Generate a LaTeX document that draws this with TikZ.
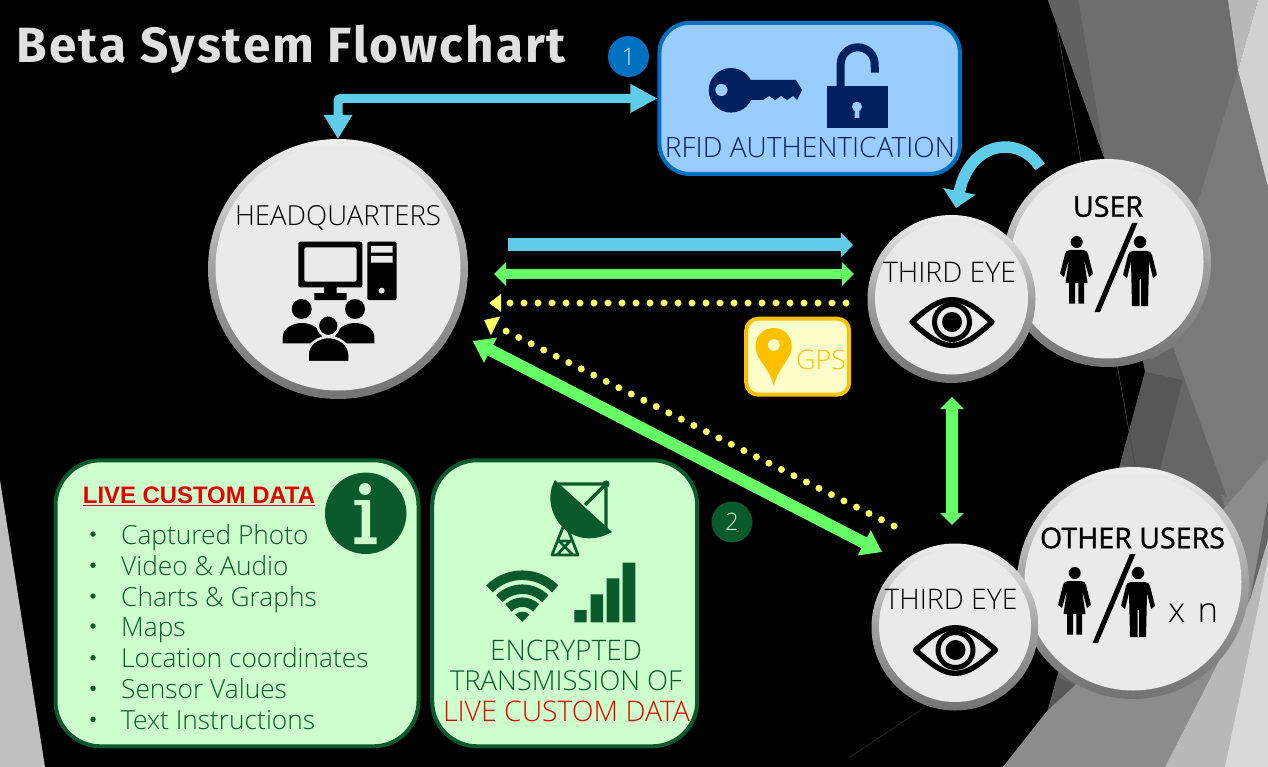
\documentclass[tikz,border=0pt]{standalone}
\usepackage{fontspec}
\usepackage{graphicx}
\usetikzlibrary{arrows.meta}
\setmainfont{Open Sans}
\newfontfamily\lightf{Open Sans Light}
\newfontfamily\medf[FakeBold=1.2]{Open Sans}
\newfontfamily\titlef[LetterSpace=4]{Fira Sans}
\newfontfamily\headf{Liberation Sans}
\definecolor{facegray}{HTML}{EAEAEA}
\definecolor{skyc}{HTML}{5FCDE9}
\definecolor{limec}{HTML}{66FF66}
\definecolor{yelc}{HTML}{FFFF66}
\definecolor{dgreen}{HTML}{0B5A2C}
\definecolor{lgreen}{HTML}{CCFFCC}
\definecolor{navyc}{HTML}{002060}
\definecolor{bluec}{HTML}{0070C0}
\definecolor{lblue}{HTML}{99CCFF}
\definecolor{goldc}{HTML}{FFC000}
\definecolor{lyel}{HTML}{FFFFCC}
\definecolor{redc}{HTML}{E60000}
\definecolor{E0grey}{HTML}{EFEFEF}
\definecolor{M0grey}{HTML}{A0A0A0}
\definecolor{B0grey}{HTML}{737373}
\newcommand{\disc}[4]{%
  \node[discring,minimum size={2*#4*1pt}] (#1) at (#2,#3) {};
  \node[discface,minimum size={(2*#4-15)*1pt}] (#1-face) at (#2,#3-1) {};}
\newcommand{\fit}[3]{\resizebox{#1pt}{!}{\fontsize{#2}{#2}\selectfont #3}}
\newcommand{\peopleicon}{%
  \fill (1076.7,242) circle (6);
  \fill (1070,250) -- (1083,250) .. controls (1086,250) and (1087.5,252) .. (1088,254) -- (1093,274) -- (1089,277) -- (1084,259) -- (1087.5,283) -- (1084,283) -- (1084,303.5) -- (1078.3,303.5) -- (1078.3,283) -- (1075,283) -- (1075,303.5) -- (1069,303.5) -- (1069,283) -- (1065.5,283) -- (1069,259) -- (1064,277) -- (1060,274) -- (1065,254) .. controls (1065.5,252) and (1067,250) .. (1070,250) -- cycle;
  \fill (1140,242) circle (6.2);
  \fill (1133,251) -- (1147,251) .. controls (1150,251) and (1151.5,253) .. (1152,255) -- (1157,275) -- (1153,278) -- (1149,262) -- (1148,306) -- (1141,306) -- (1141,279) -- (1139.5,279) -- (1139.5,306) -- (1132,306) -- (1131,262) -- (1127,278) -- (1123,275) -- (1128,255) .. controls (1128.5,253) and (1130,251) .. (1133,251) -- cycle;
  \fill (1132,223) -- (1137.5,223) -- (1100,312) -- (1094.5,312) -- cycle;}
\newcommand{\eyeicon}{%
  \draw[line width=5.4,line join=round] (915.5,650) .. controls (932,635) and (943,627.7) .. (955.5,627.7) .. controls (968,627.7) and (979,635) .. (995.5,650) .. controls (979,665) and (968,673.3) .. (955.5,673.3) .. controls (943,673.3) and (932,665) .. (915.5,650) -- cycle;
  \draw[line width=5] (955.5,650) circle (17.5);
  \fill (955.5,650) circle (10);}
\begin{document}
\begin{tikzpicture}[x=1pt,y=-1pt,
  discring/.style={circle,inner sep=0pt,outer sep=0pt,top color=E0grey,bottom color=B0grey,middle color=M0grey},
  discface/.style={circle,inner sep=0pt,outer sep=0pt,fill=facegray},
  panel/.style={draw,line width=4,rounded corners=#1},
  wide/.style={font=\lightf,inner sep=0pt,anchor=base},
  strong/.style={font=\medf,inner sep=0pt,anchor=base},
  listitem/.style={font=\lightf\fontsize{26.3}{26.3}\selectfont,text=dgreen,anchor=base west,inner sep=0pt},
  bulletdot/.style={circle,fill=dgreen,inner sep=0pt,minimum size=5.5},
  badge/.style={circle,inner sep=0pt,minimum size=41,font=\lightf\fontsize{24}{24}\selectfont},
  skyarrow/.style={draw=skyc,line width=#1},
  limearrow/.style={draw=limec,line width=#1},
  yeldots/.style={draw=yelc,line width=7,line cap=round,dash pattern=on 0pt off 14pt},
]
\useasboundingbox (0,0) rectangle (1268,767);
\fill[black] (0,0) rectangle (1268,767);
% background right
\fill[black!60] (1048,0) -- (1268,0) -- (1268,767) -- (1003,767) -- (1048,710) -- (1057,677) -- (1120,465) -- (1145,372) -- (1105,160) -- cycle;
\fill[black!57] (1078,0) -- (1228,0) -- (1238,70) -- (1150,360) -- (1105,160) -- cycle;
\fill[black!62] (1048,0) -- (1078,0) -- (1105,160) -- cycle;
\fill[black!52] (1238,70) -- (1268,187) -- (1268,458) -- (1225,507) -- (1173,347) -- (1150,360) -- cycle;
\fill[black!66] (1145,372) -- (1120,465) -- (1160,470) -- (1183,380) -- cycle;
\fill[black!60] (1183,380) -- (1160,355) -- (1173,347) -- (1227,497) -- (1160,470) -- cycle;
\fill[black!28] (1228,0) -- (1258,0) -- (1238,70) -- cycle;
\fill[black!18] (1258,0) -- (1268,0) -- (1268,187) -- (1238,70) -- cycle;
\fill[black!45] (1225,507) -- (1268,458) -- (1268,500) -- (1250,600) -- (1165,767) -- (1003,767) -- (1048,710) -- (1075,685) -- cycle;
\fill[black!66] (1048,710) -- (1057,677) -- (1075,685) -- cycle;
\fill[black!28] (1250,600) -- (1268,540) -- (1268,767) -- (1165,767) -- cycle;
\fill[black!15] (1268,560) -- (1268,767) -- (1225,767) -- cycle;
\draw[black!72,line width=.6] (1057,27) -- (1135,465);
\draw[black!82,line width=.6] (850,757) -- (925,707);
% background left
\fill[black!25] (0,480) -- (45,767) -- (0,767) -- cycle;
% title
\node[inner sep=0pt,anchor=base,text=black!12] (title) at (291.5,62.7) {\resizebox{549pt}{!}{\titlef\bfseries\fontsize{50}{50}\selectfont Beta System Flowchart}};
% panels
\node[panel=30,draw=bluec,fill=lblue,minimum width=300.5,minimum height=151,inner sep=0pt] (rfid) at (809.7,98.4) {};
\node[panel=12,draw=goldc,fill=lyel,minimum width=103,minimum height=76,inner sep=0pt] (gps) at (797.7,356.7) {};
\node[panel=45,draw=dgreen,fill=lgreen,minimum width=363,minimum height=286,inner sep=0pt] (livebox) at (237,603.3) {};
\node[panel=45,draw=dgreen,fill=lgreen,minimum width=265,minimum height=286,inner sep=0pt] (encbox) at (564.7,603.3) {};
\node[badge,fill=bluec,text=white!85!bluec] (b1) at (628.5,56.5) {1};
\node[badge,fill=dgreen,text=lgreen] (b2) at (732,522) {2};
% discs
\disc{hq}{338}{269}{130}
\disc{user}{1107}{263}{104}
\disc{eyeA}{951.5}{299}{84}
\disc{others}{1133}{583}{116}
\disc{eyeB}{955}{627}{83.5}
% RFID
\node[wide,text=navyc] (rfidt) at (810,157.7) {\fit{290}{28}{RFID AUTHENTICATION}};
\begin{scope}[navyc]
  \fill[even odd rule] (731,90.3) ellipse (22.3 and 22.3) (721.4,90) circle (6.2);
  \fill (745,80) -- (796,80) -- (802,90) -- (797,100) -- (793,96) -- (787,100) -- (781,96) -- (775,100) -- (769,96) -- (763,100) -- (745,100) -- cycle;
  \draw[line width=8] (840.7,88) -- (840.7,64) arc[start angle=180,end angle=360,x radius=17,y radius=16.7] -- (874.8,72.7);
  \fill (827,86) -- (887.6,86) -- (887.6,127.7) -- (827,127.7) -- cycle;
\end{scope}
\fill[lblue] (857,106.7) circle (5) (855,106) -- (859,106) -- (859.5,118) -- (854.5,118) -- cycle;
% GPS
\node[wide,text=goldc] (gpst) at (821,369.3) {\fit{50}{28}{GPS}};
\fill[goldc,even odd rule] (773.8,385.7) .. controls (768,365) and (755.5,360) .. (755.5,346.5) .. controls (755.5,336) and (763,328) .. (773.8,328) .. controls (784,328) and (791.7,336) .. (791.7,346.5) .. controls (791.7,360) and (779,365) .. (773.8,385.7) -- cycle (773.8,345) circle (6);
% HQ
\node[wide] (hqt) at (338,226) {\fit{206}{28}{HEADQUARTERS}};
\begin{scope}[black]
  \fill[rounded corners=2,even odd rule] (298.3,241.7) rectangle (362.3,287.3) (304.3,247.3) rectangle (356.7,281.7);
  \fill (324,287) rectangle (336.7,293) (314.3,293) rectangle (346.7,300);
  \fill[rounded corners=2] (367.3,241.7) rectangle (396.7,300);
  \fill[facegray] (371,246) rectangle (392.7,252.7) (371,256) rectangle (392.7,262.7) (381.7,290.7) circle (3);
  \fill (301.7,309) circle (10) (355,309) circle (10);
  \fill (282.7,343.3) -- (282.7,337) .. controls (283,328) and (293,323) .. (302,323) .. controls (311,323) and (320,328) .. (322,337) -- (322,343.3) -- cycle;
  \fill (374.3,343.3) -- (374.3,337) .. controls (374,328) and (364,323) .. (355,323) .. controls (346,323) and (337,328) .. (335,337) -- (335,343.3) -- cycle;
  \filldraw[draw=facegray,line width=2.5] (328.3,325.7) circle (10.5);
  \filldraw[draw=facegray,line width=2.5] (307.5,362) -- (307.5,354) .. controls (308,344) and (318,337) .. (328.5,337) .. controls (339,337) and (349,344) .. (349.5,354) -- (349.5,362) -- cycle;
\end{scope}
% eyes
\node[wide] (eyeAt) at (949.5,282) {\fit{133}{26}{THIRD EYE}};
\begin{scope}[shift={(-3.5,-328)},black]\eyeicon\end{scope}
\node[wide] (eyeBt) at (951,609.3) {\fit{133}{26}{THIRD EYE}};
\begin{scope}[black]\eyeicon\end{scope}
% users
\node[strong] (usert) at (1108,216.7) {\fit{70}{26}{USER}};
\begin{scope}[black]\peopleicon\end{scope}
\node[strong] (otherst) at (1132.5,548.2) {\fit{185}{26}{OTHER USERS}};
\begin{scope}[shift={(-2,331)},black]\peopleicon\end{scope}
\node[wide] (xn) at (1193,622.3) {\fit{50}{28}{x\hspace{.35em}n}};
% live custom data
\node[inner sep=0pt,anchor=base,text=redc,font=\headf\bfseries] (lct) at (199,503) {\fit{232}{22}{\underline{LIVE CUSTOM DATA}}};
\foreach \nm/\yy/\tx in {a/544/Captured Photo,b/575.3/Video \& Audio,c/606/Charts \& Graphs,d/636/Maps,e/667.7/Location coordinates,f/698.3/Sensor Values,g/729.3/Text Instructions}{
  \node[bulletdot] (dot\nm) at (93,\yy-10) {};
  \node[listitem] (item\nm) at (121,\yy) {\tx};
}
% info badge
\node[circle,fill=dgreen,inner sep=0pt,minimum size=81.4] (info) at (365.7,513.3) {};
\fill[lgreen] (365,489) circle (6) (354.3,500) -- (370,500) -- (370,537.3) -- (376.7,537.3) -- (376.7,544) -- (354.3,544) -- (354.3,537.3) -- (361.7,537.3) -- (361.7,505) -- (354.3,505) -- cycle;
% encrypted
\node[wide,text=dgreen] (enc1) at (566,660) {\fit{152}{26}{ENCRYPTED}};
\node[wide,text=dgreen] (enc2) at (566,690.7) {\fit{232}{26}{TRANSMISSION OF}};
\node[wide,text=redc] (enc3) at (566.5,721) {\fit{247}{26}{LIVE CUSTOM DATA}};
\begin{scope}[dgreen]
  \fill (555,480) .. controls (538,510) and (570,555) .. (612,532) -- cycle;
  \draw[line width=3.2] (558,484) -- (606,484) -- (606,530) (606,484) -- (585,505);
  \fill (606,484) circle (3.6);
  \draw[line width=2.8,line join=round] (565,522) -- (552,555) -- (578,555) -- cycle (559,541) -- (573,555) (570,541) -- (557,555) (558,541) -- (571,541);
  \begin{scope}[shift={(522.3,621.7)},x=1pt,y=1pt]
    \foreach \rr in {46.5,32.5,19.5}{\draw[line width=9.5] (45:\rr) arc[start angle=45,end angle=135,radius=\rr];}
    \fill (0,0) -- (45:10) arc[start angle=45,end angle=135,radius=10] -- cycle;
  \end{scope}
  \fill (574.3,610) rectangle (586.7,622.3) (590.7,594.3) rectangle (603,622.3) (606.7,578.3) rectangle (619.3,622.3) (622.7,562.7) rectangle (635.3,622.3);
\end{scope}
% connector ends
\coordinate (skyS) at (508,245);
\coordinate (skyE) at (853,245);
\coordinate (limeW) at (494,274);
\coordinate (limeE) at (854,274);
\coordinate (dotS) at (846,303);
\coordinate (dotE) at (489,303);
\coordinate (ddS) at (894,526);
\coordinate (ddE) at (484,320);
\coordinate (diagW) at (472.7,341);
\coordinate (diagE) at (882,552);
\coordinate (vN) at (952,397);
\coordinate (vS) at (952,525);
\coordinate (curlS) at (1040,167);
\coordinate (curlE) at (956,208);
% connectors
\draw[skyarrow=9,rounded corners=3,{Triangle[width=27pt,length=24pt]}-{Triangle[width=27pt,length=27pt]}] (hq.north) |- (rfid.west);
\draw[skyarrow=13,-{Triangle[width=24pt,length=12pt]}] (skyS) -- (skyE);
\draw[limearrow=10.5,{Triangle[width=23pt,length=12pt]}-{Triangle[width=23pt,length=12pt]}] (limeW) -- (limeE);
\draw[yeldots,-{Triangle[width=17pt,length=12pt]}] (dotS) -- (dotE);
\draw[yeldots,-{Triangle[width=20pt,length=13pt]}] (ddS) -- (ddE);
\draw[limearrow=12,{Triangle[width=27pt,length=20pt]}-{Triangle[width=27pt,length=20pt]}] (diagW) -- (diagE);
\draw[limearrow=12,{Triangle[width=23pt,length=12pt]}-{Triangle[width=23pt,length=12pt]}] (vN) -- (vS);
\draw[skyarrow=11.5,-{Triangle[width=32pt,length=17pt]}] (curlS) .. controls (1020,135) and (970,140) .. (curlE);
\end{tikzpicture}
\end{document}
